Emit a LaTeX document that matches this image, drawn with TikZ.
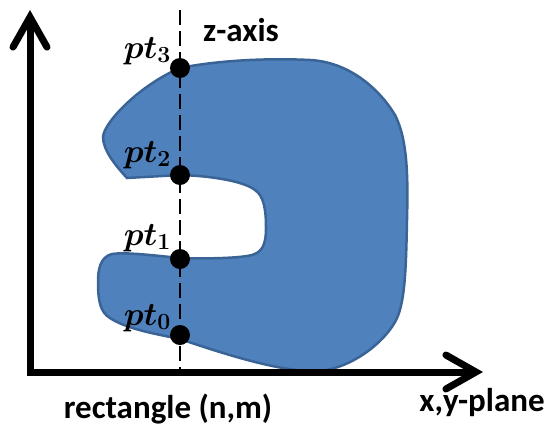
\documentclass[tikz,border=0pt]{standalone}
\usepackage{fix-cm}
\usepackage{fontspec}
\usepackage{bm}
\setsansfont{Carlito}
\usetikzlibrary{arrows.meta}
\definecolor{shapefill}{HTML}{4F81BD}
\definecolor{shapeline}{HTML}{3A6496}
\tikzset{
  axisline/.style={line width=7pt, line join=miter,
    {Straight Barb[length=30pt,width=34pt,line cap=round]}-{Straight Barb[length=30pt,width=34pt,line cap=round]}},
  zdash/.style={line width=2pt, dash pattern=on 15pt off 6pt},
  dotpt/.style={circle, fill=black, inner sep=0pt, minimum size=20pt},
  ptlabel/.style={anchor=base east, inner sep=0pt, font=\fontsize{33}{38}\selectfont},
  sanslabel/.style={font=\sffamily\bfseries\fontsize{33}{36}\selectfont, inner sep=0pt},
}
\begin{document}
\begin{tikzpicture}[x=1pt,y=-1pt]
\useasboundingbox (0,0) rectangle (548,426);
% shape
\draw[fill=shapefill, draw=shapeline, line width=2.5pt]
  (180,68) .. controls (220,60) and (270,58) .. (310,60)
  .. controls (350,62) and (380,90) .. (395,115)
  .. controls (408,140) and (408,180) .. (407,220)
  .. controls (406,270) and (405,305) .. (395,322)
  .. controls (382,345) and (350,368) .. (320,371)
  .. controls (285,373) and (230,356) .. (180,339)
  .. controls (150,333) and (125,328) .. (110,318)
  .. controls (100,312) and (98,300) .. (98,282)
  .. controls (98,270) and (100,257) .. (112,254)
  .. controls (125,252) and (150,255) .. (180,258)
  .. controls (210,259) and (240,258) .. (252,255)
  .. controls (262,252) and (266,245) .. (266,228)
  .. controls (266,210) and (264,196) .. (255,190)
  .. controls (245,182) and (215,176) .. (180,175)
  -- (127,178)
  .. controls (115,165) and (103,150) .. (103,137)
  .. controls (104,122) and (140,85) .. (180,68) -- cycle;
% axes
\coordinate (ztop) at (30,10);
\coordinate (origin) at (30,372);
\coordinate (xend) at (483,372);
\draw[axisline] (ztop) -- (origin) -- (xend);
% dashed z line
\coordinate (dtop) at (180,10);
\coordinate (dbot) at (180,372);
\draw[zdash] (dtop) -- (dbot);
% points
\node[dotpt] (p3) at (180,68) {};
\node[dotpt] (p2) at (180,175) {};
\node[dotpt] (p1) at (180,259) {};
\node[dotpt] (p0) at (180,335) {};
\node[ptlabel] (l3) at (171,58) {$\bm{pt_3}$};
\node[ptlabel] (l2) at (171,162) {$\bm{pt_2}$};
\node[ptlabel] (l1) at (171,245) {$\bm{pt_1}$};
\node[ptlabel] (l0) at (171,325) {$\bm{pt_0}$};
% labels
\node[sanslabel] (zl) at (241,30) {z-axis};
\node[sanslabel] (rl) at (168,409) {rectangle (n,m)};
\node[sanslabel] (xl) at (482,403) {x,y-plane};
\end{tikzpicture}
\end{document}
